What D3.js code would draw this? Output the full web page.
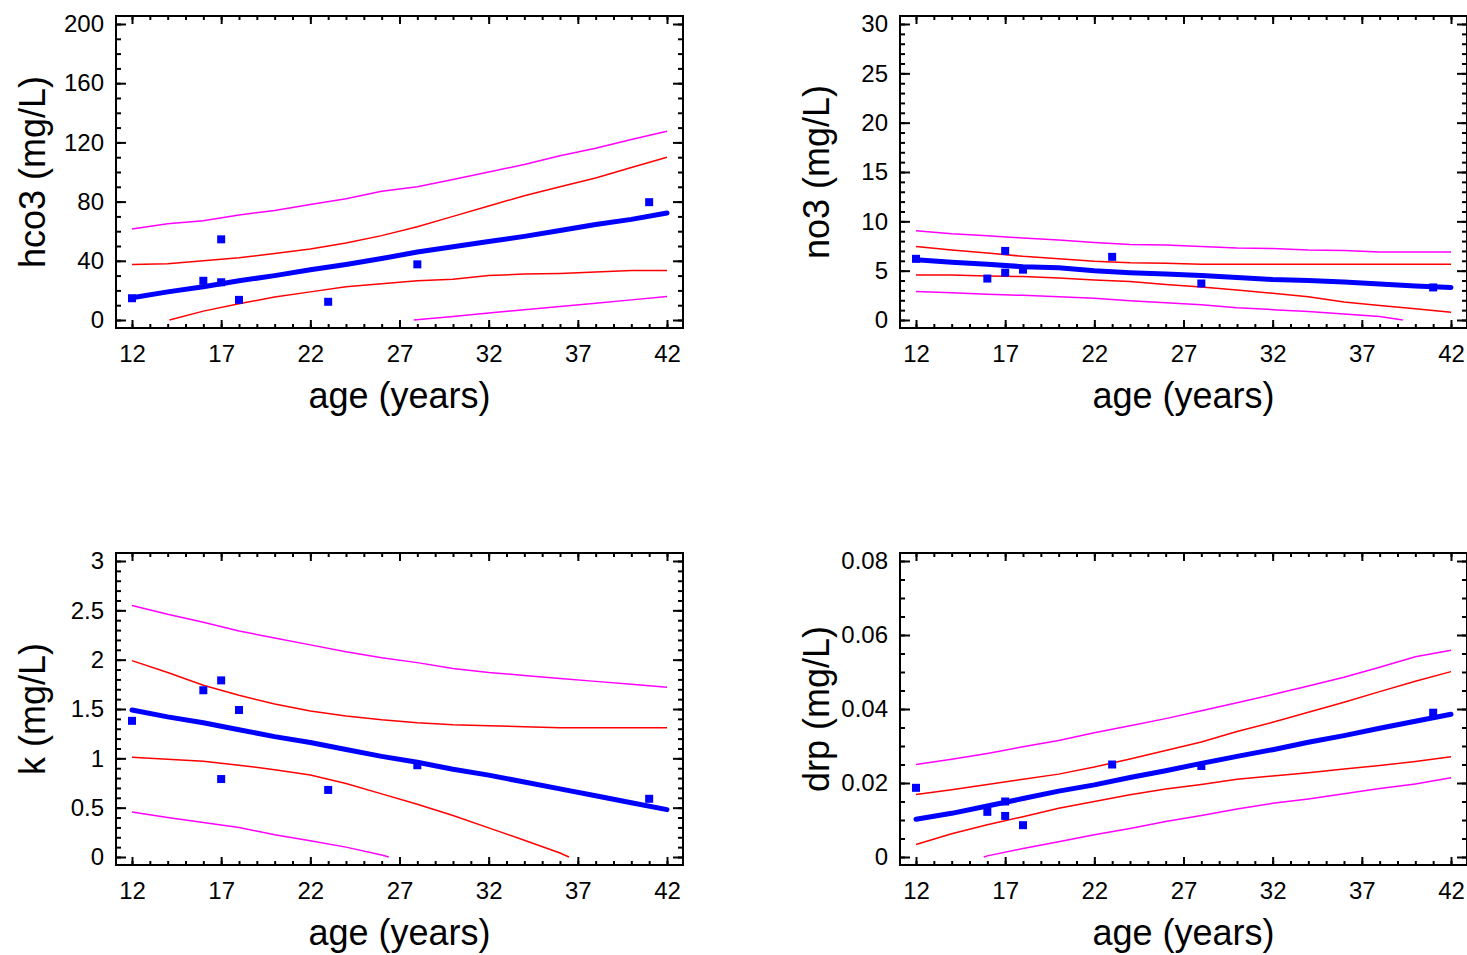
<!DOCTYPE html>
<html>
<head>
<meta charset="utf-8">
<script src="https://cdn.jsdelivr.net/npm/d3@7"></script>
<style>
  html, body { margin: 0; padding: 0; background: #fff; }
  svg { display: block; }
  text { font-family: "Liberation Sans", Arial, sans-serif; fill: #000; }
</style>
</head>
<body>
<svg id="chart" width="1467" height="955"></svg>
<script>
// ---------- data ----------
const obsAges = [12, 16, 17, 17, 18, 23, 28, 41];
const hco3Obs = [14.7, 26.5, 54.5, 25.5, 13.6, 12.3, 37.6, 79.6];
const no3Obs  = [6.2, 4.2, 7.0, 4.8, 5.1, 6.4, 3.7, 3.3];
const kObs    = [1.38, 1.69, 1.79, 0.79, 1.49, 0.68, 0.93, 0.59];
const drpObs  = [0.0187, 0.0122, 0.0150, 0.0111, 0.0086, 0.0250, 0.0246, 0.0390];

const fitAges = [12, 14, 16, 18, 20, 22, 24, 26, 28, 30, 32, 34, 36, 38, 40, 42];

const hco3Fit     = [15, 19, 22.5, 26.5, 30, 34, 37.5, 41.5, 46, 49.5, 53, 56.5, 60.5, 64.5, 68, 72.3];
const hco3UpperCI = [37.5, 38, 40, 42, 45, 48, 52, 57, 63, 70, 77, 84, 90, 96, 103, 110];
const hco3LowerCIAges = [14.1, 16, 18, 20, 22, 24, 26, 28, 30, 32, 34, 36, 38, 40, 42];
const hco3LowerCI     = [0, 6, 11, 15.5, 19, 22.5, 24.5, 26.5, 27.5, 30, 31, 31.5, 32.5, 33.5, 33.5];
const hco3UpperPI = [61.5, 65, 67, 71, 74, 78, 82, 87, 90, 95, 100, 105, 111, 116, 122, 127.5];
const hco3LowerPIAges = [27.8, 30, 32, 34, 36, 38, 40, 42];
const hco3LowerPI     = [0, 2.4, 4.7, 6.9, 9.1, 11.3, 13.6, 15.8];

const no3Fit     = [6.1, 5.85, 5.65, 5.4, 5.3, 5.0, 4.8, 4.65, 4.5, 4.3, 4.1, 4.0, 3.85, 3.65, 3.45, 3.3];
const no3UpperCI = [7.45, 7.1, 6.8, 6.45, 6.2, 5.95, 5.8, 5.75, 5.66, 5.66, 5.66, 5.66, 5.66, 5.66, 5.66, 5.66];
const no3LowerCI = [4.55, 4.55, 4.45, 4.4, 4.25, 4.05, 3.9, 3.6, 3.35, 3.05, 2.7, 2.36, 1.82, 1.48, 1.15, 0.78];
const no3UpperPI = [9.05, 8.75, 8.55, 8.3, 8.1, 7.85, 7.65, 7.6, 7.45, 7.3, 7.25, 7.1, 7.05, 6.9, 6.9, 6.9];
const no3LowerPIAges = [12, 14, 16, 18, 20, 22, 24, 26, 28, 30, 32, 34, 36, 38, 39.3];
const no3LowerPI     = [2.9, 2.75, 2.6, 2.5, 2.35, 2.2, 1.95, 1.75, 1.55, 1.25, 1.05, 0.85, 0.6, 0.35, 0];

const kFit     = [1.49, 1.42, 1.36, 1.29, 1.22, 1.16, 1.09, 1.02, 0.96, 0.89, 0.83, 0.76, 0.69, 0.62, 0.55, 0.48];
const kUpperCI = [1.99, 1.87, 1.74, 1.64, 1.55, 1.48, 1.43, 1.39, 1.36, 1.34, 1.33, 1.32, 1.31, 1.31, 1.31, 1.31];
const kLowerCIAges = [12, 14, 16, 18, 20, 22, 24, 26, 28, 30, 32, 34, 36, 36.5];
const kLowerCI     = [1.01, 0.99, 0.97, 0.93, 0.885, 0.83, 0.745, 0.64, 0.535, 0.42, 0.295, 0.17, 0.04, 0];
const kUpperPI = [2.55, 2.46, 2.38, 2.29, 2.22, 2.15, 2.08, 2.02, 1.97, 1.91, 1.87, 1.84, 1.81, 1.78, 1.75, 1.72];
const kLowerPIAges = [12, 14, 16, 18, 20, 22, 24, 26, 26.4];
const kLowerPI     = [0.455, 0.40, 0.35, 0.30, 0.225, 0.165, 0.10, 0.02, 0];

const drpFit     = [0.0102, 0.0118, 0.0138, 0.0158, 0.0178, 0.0195, 0.0215, 0.0233, 0.0253, 0.0272, 0.0290, 0.0310, 0.0328, 0.0348, 0.0367, 0.0386];
const drpUpperCI = [0.0169, 0.0182, 0.0196, 0.0210, 0.0224, 0.0243, 0.0265, 0.0288, 0.0311, 0.0339, 0.0364, 0.0391, 0.0418, 0.0447, 0.0475, 0.0501];
const drpLowerCI = [0.0034, 0.0063, 0.0087, 0.0109, 0.0132, 0.0150, 0.0168, 0.0184, 0.0196, 0.0210, 0.0219, 0.0228, 0.0238, 0.0247, 0.0258, 0.0271];
const drpUpperPI = [0.0250, 0.0264, 0.0280, 0.0298, 0.0315, 0.0336, 0.0355, 0.0374, 0.0395, 0.0417, 0.0439, 0.0462, 0.0486, 0.0513, 0.0541, 0.0559];
const drpLowerPIAges = [15.8, 16, 18, 20, 22, 24, 26, 28, 30, 32, 34, 36, 38, 40, 42];
const drpLowerPI     = [0, 0.0003, 0.0023, 0.0041, 0.0060, 0.0077, 0.0096, 0.0112, 0.0130, 0.0145, 0.0157, 0.0171, 0.0185, 0.0197, 0.0214];

const xTicks = [12, 17, 22, 27, 32, 37, 42];
const hco3Ticks = [0, 40, 80, 120, 160, 200];
const no3Ticks  = [0, 5, 10, 15, 20, 25, 30];
const kTicks    = [0, 0.5, 1, 1.5, 2, 2.5, 3];
const drpTicks  = [0, 0.02, 0.04, 0.06, 0.08];
const xTitle = "age (years)";

// ---------- panel definitions ----------
const pair = (a, v) => a.map((x, i) => [x, v[i]]);
const panels = [
  { left: 116, top: 16, yLabel: "hco3 (mg/L)", ticks: hco3Ticks, minorStep: 10, obs: hco3Obs,
    fit: pair(fitAges, hco3Fit), ci: [pair(fitAges, hco3UpperCI), pair(hco3LowerCIAges, hco3LowerCI)],
    pi: [pair(fitAges, hco3UpperPI), pair(hco3LowerPIAges, hco3LowerPI)] },
  { left: 900, top: 16, yLabel: "no3 (mg/L)", ticks: no3Ticks, minorStep: 1, obs: no3Obs,
    fit: pair(fitAges, no3Fit), ci: [pair(fitAges, no3UpperCI), pair(fitAges, no3LowerCI)],
    pi: [pair(fitAges, no3UpperPI), pair(no3LowerPIAges, no3LowerPI)] },
  { left: 116, top: 553, yLabel: "k (mg/L)", ticks: kTicks, minorStep: 0.1, obs: kObs,
    fit: pair(fitAges, kFit), ci: [pair(fitAges, kUpperCI), pair(kLowerCIAges, kLowerCI)],
    pi: [pair(fitAges, kUpperPI), pair(kLowerPIAges, kLowerPI)] },
  { left: 900, top: 553, yLabel: "drp (mg/L)", ticks: drpTicks, minorStep: 0.005, obs: drpObs,
    fit: pair(fitAges, drpFit), ci: [pair(fitAges, drpUpperCI), pair(fitAges, drpLowerCI)],
    pi: [pair(fitAges, drpUpperPI), pair(drpLowerPIAges, drpLowerPI)] }
];

const W = 567, H = 312;
const svg = d3.select("#chart");

panels.forEach((p, idx) => {
  const g = svg.append("g").attr("transform", `translate(${p.left},${p.top})`);
  const x = d3.scaleLinear().domain([12, 42]).range([16, W - 16]);
  const yMax = p.ticks[p.ticks.length - 1];
  const y = d3.scaleLinear().domain([0, yMax]).range([H - 8, 8]);

  const minorY = d3.range(0, yMax + p.minorStep / 2, p.minorStep).map(v => +v.toFixed(6));
  const minorX = d3.range(12, 43, 1);

  const fmt = v => String(+v.toFixed(4));

  const clipId = "clip" + idx;
  g.append("clipPath").attr("id", clipId).append("rect").attr("width", W).attr("height", H);

  const plot = g.append("g").attr("clip-path", `url(#${clipId})`);
  const line = d3.line().x(d => x(d[0])).y(d => y(d[1]));

  p.pi.forEach(seg => plot.append("path").datum(seg).attr("d", line)
    .attr("fill", "none").attr("stroke", "#ff00ff").attr("stroke-width", 1.5));
  p.ci.forEach(seg => plot.append("path").datum(seg).attr("d", line)
    .attr("fill", "none").attr("stroke", "#ff0000").attr("stroke-width", 1.5));
  plot.append("path").datum(p.fit).attr("d", line)
    .attr("fill", "none").attr("stroke", "#0000ff").attr("stroke-width", 5)
    .attr("stroke-linecap", "round").attr("stroke-linejoin", "round");

  const s = 8;
  plot.selectAll("rect.pt").data(obsAges.map((a, i) => [a, p.obs[i]])).enter()
    .append("rect").attr("class", "pt")
    .attr("x", d => x(d[0]) - s / 2).attr("y", d => y(d[1]) - s / 2)
    .attr("width", s).attr("height", s).attr("fill", "#0000ff");

  const styleAxis = sel => {
    sel.select(".domain").remove();
    sel.selectAll(".tick line").attr("stroke", "#000").attr("stroke-width", 2);
    sel.selectAll(".tick text").attr("font-size", 24).attr("font-family", "'Liberation Sans', Arial, sans-serif").attr("fill", "#000");
  };
  g.append("g").call(d3.axisLeft(y).tickValues(p.ticks).tickFormat(fmt).tickSize(-10).tickSizeOuter(0).tickPadding(12)).call(styleAxis);
  g.append("g").call(d3.axisLeft(y).tickValues(minorY).tickFormat("").tickSize(-5).tickSizeOuter(0)).call(styleAxis);
  g.append("g").attr("transform", `translate(${W},0)`).call(d3.axisRight(y).tickValues(p.ticks).tickFormat("").tickSize(-10).tickSizeOuter(0)).call(styleAxis);
  g.append("g").attr("transform", `translate(${W},0)`).call(d3.axisRight(y).tickValues(minorY).tickFormat("").tickSize(-5).tickSizeOuter(0)).call(styleAxis);
  g.append("g").attr("transform", `translate(0,${H})`).call(d3.axisBottom(x).tickValues(xTicks).tickFormat(d3.format("d")).tickSize(-8).tickSizeOuter(0).tickPadding(17)).call(styleAxis);
  g.append("g").attr("transform", `translate(0,${H})`).call(d3.axisBottom(x).tickValues(minorX).tickFormat("").tickSize(-4).tickSizeOuter(0)).call(styleAxis);
  g.append("g").call(d3.axisTop(x).tickValues(xTicks).tickFormat("").tickSize(-8).tickSizeOuter(0)).call(styleAxis);
  g.append("g").call(d3.axisTop(x).tickValues(minorX).tickFormat("").tickSize(-4).tickSizeOuter(0)).call(styleAxis);

  g.append("rect").attr("width", W).attr("height", H)
    .attr("fill", "none").attr("stroke", "#000").attr("stroke-width", 2);

  g.append("text").attr("x", W / 2).attr("y", H + 80).attr("text-anchor", "middle")
    .attr("font-size", 36).text(xTitle);
  g.append("text").attr("transform", `translate(-71,${H / 2}) rotate(-90)`)
    .attr("text-anchor", "middle").attr("font-size", 36).text(p.yLabel);
});
</script>
</body>
</html>
